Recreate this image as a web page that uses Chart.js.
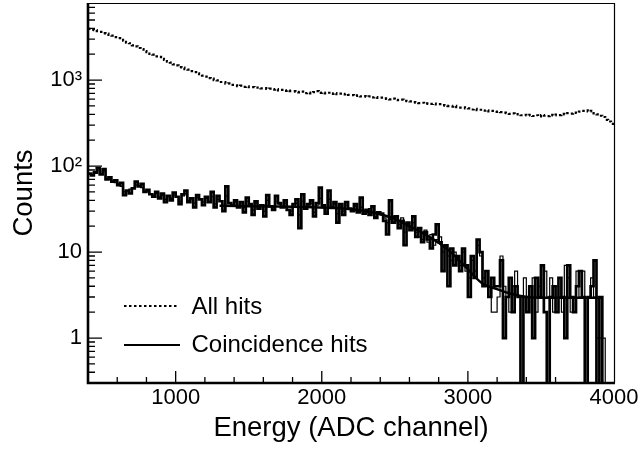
<!DOCTYPE html>
<html>
<head>
<meta charset="utf-8">
<title>Energy spectrum</title>
<script src="https://cdn.jsdelivr.net/npm/chart.js@4/dist/chart.umd.min.js"></script>
<style>
  html, body { margin: 0; padding: 0; background: #fff; }
  canvas { display: block; }
</style>
</head>
<body>
<canvas id="spectrum" width="639" height="451"></canvas>
<script>
"use strict";

/* binning: 180 bins of 20 ADC channels, 400 -> 4000 */
const BIN_LO = 400;
const BIN_W = 20;

// all hits, counts per bin (dotted)
const allHits = [
  3950, 3860, 3820, 3700, 3640, 3520, 3470, 3360, 3290, 3160,
  3080, 2940, 2870, 2720, 2680, 2540, 2470, 2360, 2300, 2180,
  2120, 2020, 1980, 1890, 1860, 1770, 1720, 1640, 1600, 1520,
  1480, 1420, 1395, 1340, 1320, 1270, 1240, 1195, 1170, 1125,
  1100, 1055, 1040, 995, 990, 950, 945, 910, 915, 880,
  870, 850, 860, 835, 845, 825, 830, 815, 820, 800,
  805, 790, 795, 775, 785, 760, 770, 750, 760, 745,
  745, 730, 720, 735, 705, 715, 700, 725, 745, 710,
  715, 700, 712, 690, 705, 685, 695, 680, 690, 672,
  670, 655, 665, 645, 650, 640, 648, 630, 635, 620,
  625, 612, 605, 598, 610, 590, 585, 592, 575, 570,
  565, 555, 548, 540, 545, 530, 536, 528, 532, 520,
  525, 512, 505, 498, 492, 500, 485, 478, 482, 470,
  468, 455, 462, 448, 452, 440, 446, 432, 438, 428,
  430, 425, 418, 412, 405, 410, 398, 402, 390, 395,
  388, 395, 382, 390, 378, 392, 385, 380, 395, 388,
  398, 392, 405, 400, 412, 408, 420, 415, 430, 438,
  445, 432, 440, 410, 400, 385, 372, 345, 330, 310,
];

// coincidence hits (thick line)
const coincHits = [
  82, 78, 84, 95, 80, 92, 70, 74, 66, 68,
  60, 64, 46, 52, 48, 55, 66, 58, 62, 50,
  53, 47, 44, 50, 42, 48, 38, 45, 40, 49,
  44, 36, 47, 52, 38, 42, 33, 46, 41, 35,
  44, 38, 50, 33, 45, 39, 30, 58, 37, 35,
  40, 33, 38, 29, 43, 36, 27, 39, 32, 35,
  26, 46, 34, 31, 45, 37, 33, 40, 31, 27,
  36, 41, 19, 47, 32, 36, 40, 26, 37, 56,
  35, 28, 52, 33, 38, 22, 36, 27, 38, 32,
  30, 36, 29, 43, 28, 31, 27, 34, 25, 29,
  28, 23, 16, 40, 22, 26, 19, 23, 12, 22,
  18, 26, 15, 19, 13, 17, 14, 11, 16, 21,
  13, 6, 12, 4, 11, 7, 9, 6, 11, 7,
  3, 9, 5, 14, 10, 4, 6, 3, 5, 4,
  4, 8, 1, 3, 5, 2, 4, 3, 0, 3,
  2, 4, 1, 5, 3, 7, 2, 0, 3, 4,
  2, 5, 3, 1, 7, 3, 2, 4, 6, 3,
  0, 3, 4, 8, 0, 3, 0, 0, 0, 0,
];

// second coincidence histogram (thin line)
const coincHitsAlt = [
  80, 78, 86, 90, 80, 88, 72, 70, 66, 64,
  62, 58, 50, 52, 54, 55, 60, 58, 56, 50,
  51, 47, 46, 48, 44, 46, 41, 45, 42, 46,
  44, 39, 45, 48, 40, 42, 37, 43, 41, 38,
  42, 38, 44, 36, 41, 39, 34, 45, 37, 35,
  38, 35, 38, 33, 39, 36, 31, 37, 34, 35,
  30, 40, 34, 33, 39, 36, 33, 37, 31, 30,
  34, 37, 27, 39, 32, 35, 37, 29, 35, 42,
  34, 30, 41, 33, 36, 28, 34, 30, 35, 32,
  32, 34, 31, 33, 30, 29, 32, 34, 26, 29,
  27, 25, 22, 24, 26, 23, 21, 25, 17, 20,
  18, 22, 17, 15, 14, 18, 13, 16, 12, 14,
  15, 10, 12, 9, 8, 10, 8, 7, 10, 6,
  5, 8, 6, 12, 9, 5, 6, 4, 2, 2,
  3, 9, 4, 3, 2, 4, 6, 3, 3, 5,
  2, 3, 5, 2, 4, 3, 6, 3, 5, 2,
  4, 3, 2, 7, 5, 2, 3, 6, 3, 6,
  0, 3, 5, 3, 1, 1, 1, 0, 0, 0,
];

// fit curve
const fitX = [1300, 1500, 1700, 1900, 2100, 2200, 2300, 2400, 2500, 2600, 2700,
              2800, 2900, 3000, 3100, 3200, 3300, 3400, 3500, 3700, 3920];
const fitY = [34.5, 34.2, 33.9, 33.4, 32.5, 31.5, 30.0, 27.5, 24.3, 20.0, 16.3,
              12.8, 9.4, 6.3, 4.3, 3.7, 3.25, 3.0, 2.95, 2.95, 2.95];

const xTicks = [1000, 2000, 3000, 4000];
const yTicks = [1, 10, 100, 1000];
const yTickLabels = ["1", "10", "10²", "10³"];

const FONT = '"Liberation Sans", Arial, sans-serif';
const EMPTY = 0.05; // empty bins sit below the axis floor

function histPoints(counts) {
  const pts = counts.map((c, i) => ({ x: BIN_LO + i * BIN_W, y: c > 0 ? c : EMPTY }));
  pts.push({ x: BIN_LO + counts.length * BIN_W, y: pts[pts.length - 1].y });
  return pts;
}

// ROOT-like frame: inward ticks, heavy left/bottom axes, legend inside pad
const frame = {
  id: "frame",
  afterDatasetsDraw(chart) {
    const { ctx, chartArea: a, scales: { x, y } } = chart;
    ctx.save();
    ctx.strokeStyle = "#000";
    ctx.fillStyle = "#000";

    ctx.lineWidth = 1.2;
    ctx.beginPath();
    ctx.moveTo(a.left, a.top + 0.5); ctx.lineTo(a.right + 0.5, a.top + 0.5);
    ctx.lineTo(a.right + 0.5, a.bottom);
    ctx.stroke();

    ctx.lineWidth = 1.3;
    ctx.beginPath();
    for (let v = 600; v < 4000; v += 200) {
      const px = x.getPixelForValue(v);
      const len = v % 1000 === 0 ? 12 : 6;
      ctx.moveTo(px, a.bottom); ctx.lineTo(px, a.bottom - len);
    }
    for (let d = -1; d <= 3; d++) {
      for (let k = 1; k <= 9; k++) {
        const v = k * Math.pow(10, d);
        if (v < y.min || v > y.max) continue;
        const py = y.getPixelForValue(v);
        ctx.moveTo(a.left, py); ctx.lineTo(a.left + (k === 1 ? 14 : 7), py);
      }
    }
    ctx.stroke();

    ctx.lineWidth = 2.6;
    ctx.beginPath();
    ctx.moveTo(a.left, a.top); ctx.lineTo(a.left, a.bottom);
    ctx.lineTo(a.right + 1, a.bottom);
    ctx.stroke();

    // legend
    ctx.font = `24px ${FONT}`;
    ctx.textBaseline = "alphabetic";
    ctx.fillText("All hits", 191.5, 314);
    ctx.fillText("Coincidence hits", 191.5, 351.5);
    ctx.lineWidth = 2;
    ctx.setLineDash([2.5, 2.5]);
    ctx.beginPath(); ctx.moveTo(124, 306); ctx.lineTo(177, 306); ctx.stroke();
    ctx.setLineDash([]);
    ctx.beginPath(); ctx.moveTo(124, 345); ctx.lineTo(180, 345); ctx.stroke();
    ctx.restore();
  },
};

new Chart(document.getElementById("spectrum"), {
  type: "line",
  data: {
    datasets: [
      { label: "All hits", data: histPoints(allHits), stepped: "before",
        borderColor: "#000", borderWidth: 2.2, borderDash: [2.5, 2.5], order: 4 },
      { label: "Coincidence (alt)", data: histPoints(coincHitsAlt), stepped: "before",
        borderColor: "#000", borderWidth: 1.2, order: 3 },
      { label: "Coincidence hits", data: histPoints(coincHits), stepped: "before",
        borderColor: "#000", borderWidth: 2.7, order: 2 },
      { label: "Fit", data: fitX.map((v, i) => ({ x: v, y: fitY[i] })),
        cubicInterpolationMode: "monotone", borderColor: "#000", borderWidth: 2.5, order: 1 },
    ],
  },
  options: {
    responsive: false,
    animation: false,
    events: [],
    layout: { padding: { top: 3, right: 25, bottom: 0, left: 0 }, autoPadding: false },
    elements: { point: { radius: 0 }, line: { fill: false, borderJoinStyle: "miter" } },
    plugins: { legend: { display: false }, tooltip: { enabled: false } },
    scales: {
      x: {
        type: "linear", min: 400, max: 4000,
        grid: { display: false, drawTicks: false },
        border: { display: false },
        afterBuildTicks: (s) => { s.ticks = xTicks.map((v) => ({ value: v })); },
        afterFit: (s) => { s.height = 68; s.paddingLeft = 0; s.paddingRight = 0; },
        ticks: { padding: 2, color: "#000", autoSkip: false, maxRotation: 0,
                 font: { family: FONT, size: 22 }, callback: (v) => String(v) },
        title: { display: true, text: "Energy (ADC channel)", color: "#000",
                 font: { family: FONT, size: 27.5 }, padding: { top: 0, bottom: 6 } },
      },
      y: {
        type: "logarithmic", min: 0.338, max: 7880,
        grid: { display: false, drawTicks: false },
        border: { display: false },
        afterBuildTicks: (s) => { s.ticks = yTicks.map((v) => ({ value: v })); },
        afterFit: (s) => { s.width = 88; s.paddingTop = 0; s.paddingBottom = 0; },
        ticks: { padding: 6, color: "#000", autoSkip: false,
                 font: { family: FONT, size: 22 },
                 callback: (v) => yTickLabels[yTicks.indexOf(v)] },
        title: { display: true, text: "Counts", color: "#000",
                 font: { family: FONT, size: 27.5 }, padding: { top: 7.7, bottom: 0 } },
      },
    },
  },
  plugins: [frame],
});
</script>
</body>
</html>
